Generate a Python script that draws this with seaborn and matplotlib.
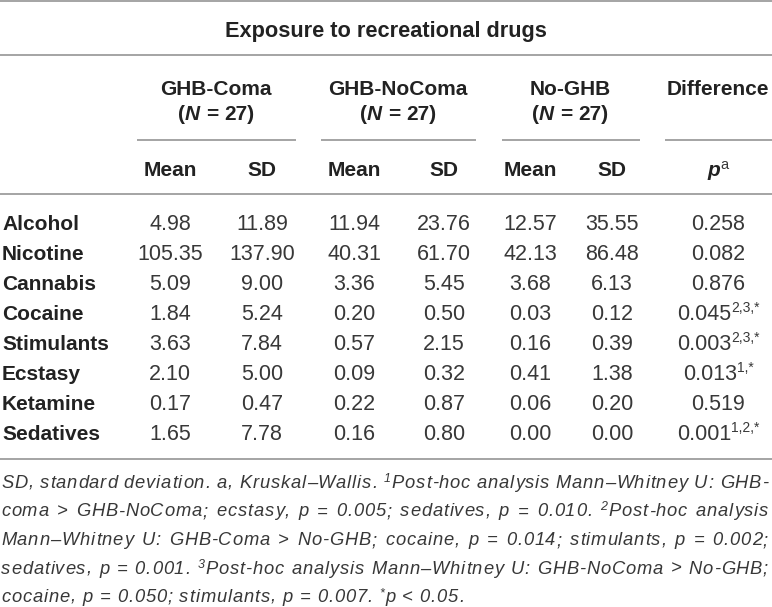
import re
import matplotlib
matplotlib.use("Agg")
import matplotlib.pyplot as plt
import seaborn as sns
import pandas as pd

sns.set_theme(style="white")
plt.rcParams['font.family'] = ['Liberation Sans', 'DejaVu Sans']

# table content
title = "Exposure to recreational drugs"
groups = ["GHB-Coma", "GHB-NoComa", "No-GHB"]
group_n = [27, 27, 27]
drugs = ["Alcohol", "Nicotine", "Cannabis", "Cocaine", "Stimulants",
         "Ecstasy", "Ketamine", "Sedatives"]
coma_mean = [4.98, 105.35, 5.09, 1.84, 3.63, 2.10, 0.17, 1.65]
coma_sd = [11.89, 137.90, 9.00, 5.24, 7.84, 5.00, 0.47, 7.78]
nocoma_mean = [11.94, 40.31, 3.36, 0.20, 0.57, 0.09, 0.22, 0.16]
nocoma_sd = [23.76, 61.70, 5.45, 0.50, 2.15, 0.32, 0.87, 0.80]
noghb_mean = [12.57, 42.13, 3.68, 0.03, 0.16, 0.41, 0.06, 0.00]
noghb_sd = [35.55, 86.48, 6.13, 0.12, 0.39, 1.38, 0.20, 0.00]
p_values = ["0.258", "0.082", "0.876", "0.045", "0.003", "0.013", "0.519", "0.001"]
p_marks = ["", "", "", "2,3,*", "2,3,*", "1,*", "", "1,2,*"]

# {..} = superscript
footnote = [
    "SD, standard deviation. a, Kruskal–Wallis. {1}Post-hoc analysis Mann–Whitney U: GHB-",
    "coma > GHB-NoComa; ecstasy, p = 0.005; sedatives, p = 0.010. {2}Post-hoc analysis",
    "Mann–Whitney U: GHB-Coma > No-GHB; cocaine, p = 0.014; stimulants, p = 0.002;",
    "sedatives, p = 0.001. {3}Post-hoc analysis Mann–Whitney U: GHB-NoComa > No-GHB;",
    "cocaine, p = 0.050; stimulants, p = 0.007. {*}p < 0.05.",
]

df = pd.DataFrame({
    "drug": drugs,
    "coma_mean": coma_mean, "coma_sd": coma_sd,
    "nocoma_mean": nocoma_mean, "nocoma_sd": nocoma_sd,
    "noghb_mean": noghb_mean, "noghb_sd": noghb_sd,
    "p": p_values, "mark": p_marks,
})

INK = "#222222"
SOFT = "#383838"
RULE = "#9d9d9d"
B = dict(family=['Liberation Sans'], weight='bold', size=15, color=INK)
BT = dict(B, size=15.7)
BI = dict(B, style='italic')
L = dict(family=['Liberation Sans'], weight='normal', size=15.5, color=SOFT)
LS = dict(L, size=10)
N = dict(family=['Liberation Sans'], weight='normal', style='italic', size=13.2, color=SOFT)
NS = dict(N, size=9)

W, H = 772, 607
fig = plt.figure(figsize=(W / 100, H / 100), dpi=100)
ax = fig.add_axes([0, 0, 1, 1])
ax.set_xlim(0, W)
ax.set_ylim(H, 0)
ax.axis('off')
r = fig.canvas.get_renderer()

_cache = {}


def width(s, kw):
    key = (s, tuple(sorted((k, str(v)) for k, v in kw.items())))
    if key not in _cache:
        t = ax.text(0, 0, '|' + s + '|', **kw)
        w1 = t.get_window_extent(r).width
        t.remove()
        t = ax.text(0, 0, '||', **kw)
        w2 = t.get_window_extent(r).width
        t.remove()
        _cache[key] = w1 - w2
    return _cache[key]


def runs(x, y, parts, ha='center'):
    # parts: (text, style, raise) ; text ' ' is just a gap
    ws = [width(s, kw) for s, kw, _ in parts]
    x0 = x - sum(ws) / 2 if ha == 'center' else x
    for (s, kw, up), w in zip(parts, ws):
        if s.strip():
            ax.text(x0, y - up, s, ha='left', va='baseline', **kw)
        x0 += w
    return sum(ws)


def hline(y, x0=0, x1=W):
    ax.plot([x0, x1], [y, y], color=RULE, lw=1.3, solid_capstyle='butt')


# rules
hline(1)
hline(55)
hline(194)
hline(459)
group_x = [216, 398, 570]
group_span = [(137, 296), (321, 476), (502, 640)]
for (a, b) in group_span + [(665, W)]:
    hline(140, a, b)

# header
ax.text(W / 2, 36.5, title, ha='center', va='baseline', **BT)
for g, n, gx in zip(groups, group_n, group_x):
    ax.text(gx, 95, g, ha='center', va='baseline', **B)
    runs(gx, 120.5, [("(", B, 0), ("N", BI, 0), (" ", B, 0), ("=", B, 0),
                     (" ", B, 0), (f"{n})", B, 0)])
p_x = 718
ax.text(p_x, 95, "Difference", ha='center', va='baseline', **B)

col_x = [170, 262, 354, 444, 530, 612]
for i, cx in enumerate(col_x):
    ax.text(cx, 176, "Mean" if i % 2 == 0 else "SD", ha='center', va='baseline', **B)
runs(p_x, 176, [("p", BI, 0), ("a", dict(L, size=10.5), 7)])

# body
cols = ["coma_mean", "coma_sd", "nocoma_mean", "nocoma_sd", "noghb_mean", "noghb_sd"]
for i, row in df.iterrows():
    y = 230 + 30 * i
    ax.text(2, y, row["drug"], ha='left', va='baseline', **B)
    for c, cx in zip(cols, col_x):
        ax.text(cx, y, f"{row[c]:.2f}", ha='center', va='baseline', **L)
    parts = [(row["p"], L, 0)]
    if row["mark"]:
        parts.append((row["mark"], LS, 7.5))
    runs(p_x, y, parts)


# footnote: letter-spaced, justified except the last line
def split_words(line):
    words = []
    for w in line.split(" "):
        chars = []
        for piece in re.split(r'(\{[^}]*\})', w):
            if not piece:
                continue
            if piece.startswith("{"):
                chars += [(c, NS, 6) for c in piece[1:-1]]
            else:
                chars += [(c, N, 0) for c in piece]
        words.append(chars)
    return words


def word_width(chars, track):
    return sum(width(c, kw) for c, kw, _ in chars) + track * (len(chars) - 1)


# tracking from the width of the last (unjustified) line in the reference
last = split_words(footnote[-1])
n_last = sum(len(w) for w in last) + len(last) - 1
nat_last = sum(word_width(w, 0) for w in last) + width(" ", N) * (len(last) - 1)
track = max(0, (463 - nat_last) / (n_last - 1))
space = width(" ", N) + 2 * track

for k, line in enumerate(footnote):
    y = 488 + 28.5 * k
    words = split_words(line)
    ws = [word_width(w, track) for w in words]
    if k < len(footnote) - 1:
        gap = (768 - 1 - sum(ws)) / (len(words) - 1)
    else:
        gap = space
    x = 1
    for chars, w in zip(words, ws):
        cx = x
        for c, kw, up in chars:
            ax.text(cx, y - up, c, ha='left', va='baseline', **kw)
            cx += width(c, kw) + track
        x += w + gap

fig.savefig("out.png", dpi=100, facecolor="white")
